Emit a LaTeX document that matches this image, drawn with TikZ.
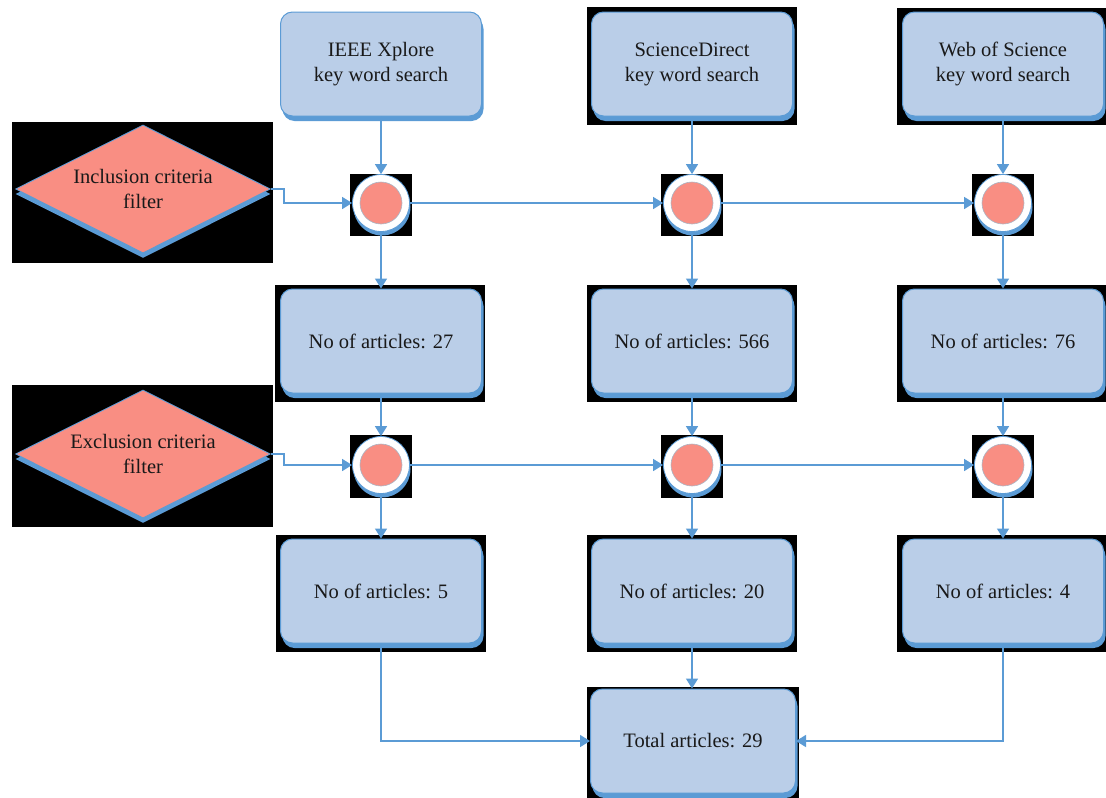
\documentclass[tikz,border=0pt]{standalone}
\usepackage{fontspec}
\setmainfont{Liberation Serif}
\usetikzlibrary{shapes.geometric,shadows,arrows.meta}
\definecolor{boxfill}{RGB}{186,206,232}
\definecolor{boxline}{RGB}{91,155,213}
\definecolor{pinkfill}{RGB}{249,142,131}
\definecolor{rimgray}{RGB}{170,180,195}
\begin{document}
\begin{tikzpicture}[x=1pt,y=-1pt,
  every node/.style={font=\fontsize{20.5}{25}\selectfont, text=black!90},
  box/.style={rectangle, rounded corners=12pt, minimum width=201pt, minimum height=104pt,
    fill=boxfill, draw=boxline, line width=1pt, align=center, inner sep=0pt,
    drop shadow={shadow xshift=2pt, shadow yshift=-5pt, fill=boxline, opacity=1}},
  junction/.style={circle, minimum size=57pt, inner sep=0pt, fill=white, draw=boxline, line width=0.8pt,
    drop shadow={shadow xshift=1pt, shadow yshift=-4pt, fill=boxline, opacity=1}},
  junctioncore/.style={circle, minimum size=42pt, inner sep=0pt, fill=pinkfill, draw=rimgray, line width=0.6pt},
  filter/.style={diamond, aspect=2, minimum width=255pt, minimum height=128pt, inner sep=0pt, align=center,
    fill=pinkfill, draw=boxline, line width=0.8pt,
    drop shadow={shadow xshift=0pt, shadow yshift=-5pt, fill=boxline, opacity=1}},
  flow/.style={draw=boxline, line width=1.6pt, -{Triangle[length=10pt,width=12pt]}},
  backdrop/.style={fill=black}
]
\useasboundingbox (0,0) rectangle (1106,798);
% black backdrops
\fill[backdrop] (587,7) rectangle (797,125);
\fill[backdrop] (897,8) rectangle (1106,125);
\fill[backdrop] (12,122) rectangle (273,263);
\fill[backdrop] (12,385) rectangle (273,527);
\foreach \xx in {350,661,972}{
  \fill[backdrop] (\xx,174) rectangle (\xx+62,236);
  \fill[backdrop] (\xx,435) rectangle (\xx+62,498);
}
\fill[backdrop] (275,285) rectangle (485,402);
\fill[backdrop] (587,285) rectangle (797,402);
\fill[backdrop] (897,285) rectangle (1106,402);
\fill[backdrop] (276,535) rectangle (486,652);
\fill[backdrop] (587,535) rectangle (797,652);
\fill[backdrop] (897,535) rectangle (1106,652);
\fill[backdrop] (587,687) rectangle (799,798);

% top search boxes
\node[box] (s1) at (381,64) {IEEE Xplore\\key word search};
\node[box] (s2) at (692,64) {ScienceDirect\\key word search};
\node[box] (s3) at (1003,64) {Web of Science\\key word search};

% filters
\node[filter] (inc) at (143,189) {Inclusion criteria\\filter};
\node[filter] (exc) at (143,454) {Exclusion criteria\\filter};

% junctions row 1
\node[junction] (j11) at (381,203) {};
\node[junction] (j12) at (692,203) {};
\node[junction] (j13) at (1003,203) {};
\node[junctioncore] (k11) at (381,203) {};
\node[junctioncore] (k12) at (692,203) {};
\node[junctioncore] (k13) at (1003,203) {};

% middle boxes
\node[box] (m1) at (381,341) {No of articles: 27};
\node[box] (m2) at (692,341) {No of articles: 566};
\node[box] (m3) at (1003,341) {No of articles: 76};

% junctions row 2
\node[junction] (j21) at (381,465) {};
\node[junction] (j22) at (692,465) {};
\node[junction] (j23) at (1003,465) {};
\node[junctioncore] (k21) at (381,465) {};
\node[junctioncore] (k22) at (692,465) {};
\node[junctioncore] (k23) at (1003,465) {};

% bottom boxes
\node[box] (b1) at (381,591) {No of articles: 5};
\node[box] (b2) at (692,591) {No of articles: 20};
\node[box] (b3) at (1003,591) {No of articles: 4};

% total
\node[box, minimum width=205pt] (tot) at (693,741) {Total articles: 29};

% connectors
\draw[flow] (s1) -- (j11);
\draw[flow] (s2) -- (j12);
\draw[flow] (s3) -- (j13);
\draw[flow] (inc.east) -- ++(13,0) |- (j11);
\draw[flow] (j11) -- (j12);
\draw[flow] (j12) -- (j13);
\draw[flow] (j11) -- (m1);
\draw[flow] (j12) -- (m2);
\draw[flow] (j13) -- (m3);
\draw[flow] (m1) -- (j21);
\draw[flow] (m2) -- (j22);
\draw[flow] (m3) -- (j23);
\draw[flow] (exc.east) -- ++(13,0) |- (j21);
\draw[flow] (j21) -- (j22);
\draw[flow] (j22) -- (j23);
\draw[flow] (j21) -- (b1);
\draw[flow] (j22) -- (b2);
\draw[flow] (j23) -- (b3);
\draw[flow] (b1.south) |- (tot.west);
\draw[flow] (b3.south) |- (tot.east);
\draw[flow] (b2.south) -- (b2.south |- tot.north);
\end{tikzpicture}
\end{document}
